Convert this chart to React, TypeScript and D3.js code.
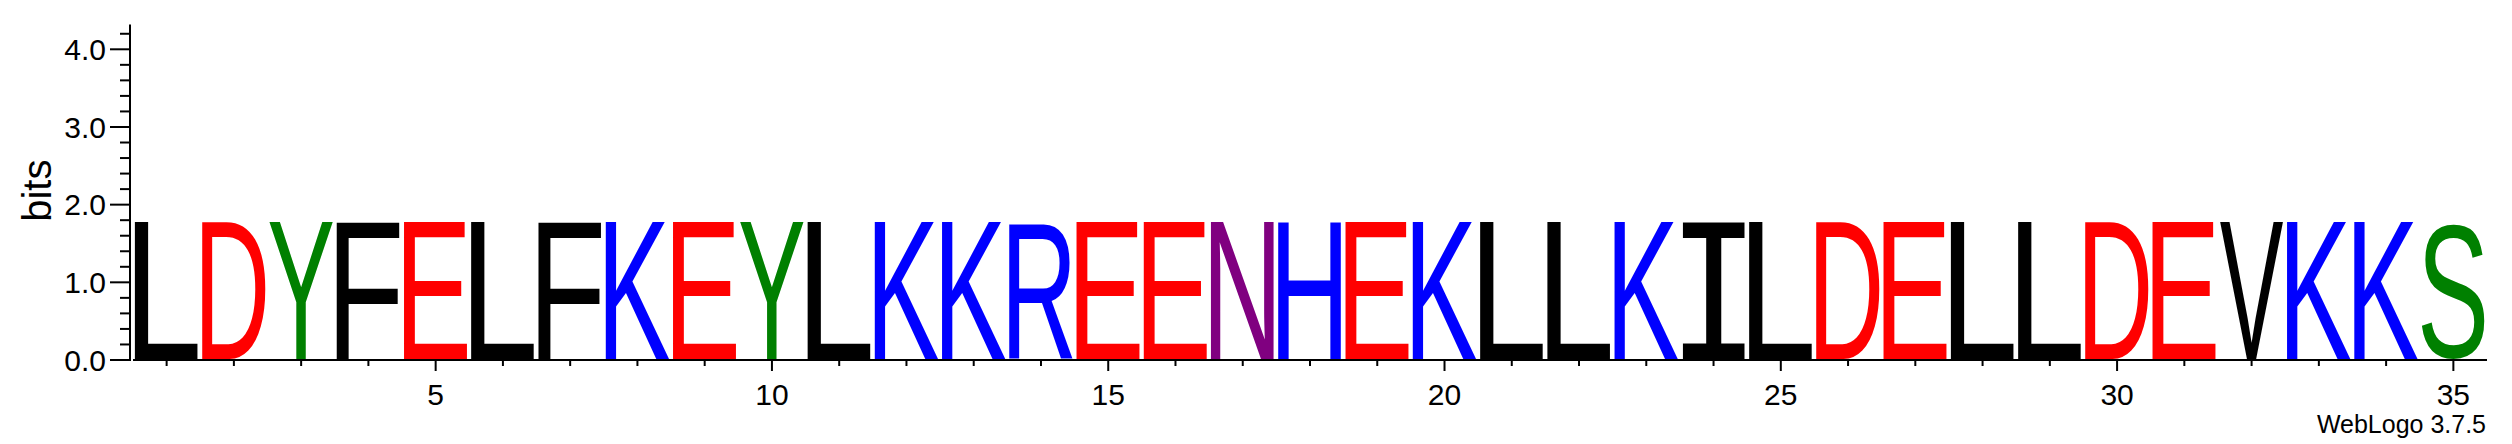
import React, { useMemo } from 'react';
import * as d3 from 'd3';

// one residue per column
const residues = [
  'L', 'D', 'Y', 'F', 'E', 'L', 'F', 'K', 'E', 'Y',
  'L', 'K', 'K', 'R', 'E', 'E', 'N', 'H', 'E', 'K',
  'L', 'L', 'K', 'I', 'L', 'D', 'E', 'L', 'L', 'D',
  'E', 'V', 'K', 'K', 'S',
];

// stack height in bits for each column
const bits = [
  1.77, 1.77, 1.77, 1.77, 1.77, 1.77, 1.77, 1.77, 1.77, 1.77,
  1.77, 1.77, 1.77, 1.77, 1.77, 1.77, 1.77, 1.77, 1.77, 1.77,
  1.77, 1.77, 1.77, 1.77, 1.77, 1.77, 1.77, 1.77, 1.77, 1.77,
  1.77, 1.77, 1.77, 1.77, 1.77,
];

const yTicks = [0, 1, 2, 3, 4];
const yMinorTicks = [0.2, 0.4, 0.6, 0.8, 1.2, 1.4, 1.6, 1.8, 2.2, 2.4, 2.6, 2.8, 3.2, 3.4, 3.6, 3.8, 4.2];
const xLabelTicks = [5, 10, 15, 20, 25, 30, 35];

// WebLogo "chemistry" colours
const colorOf: Record<string, string> = {
  G: '#008000', S: '#008000', T: '#008000', Y: '#008000', C: '#008000',
  N: '#800080', Q: '#800080',
  K: '#0000ff', R: '#0000ff', H: '#0000ff',
  D: '#ff0000', E: '#ff0000',
};

const W = 2512;
const H = 444;
const AXIS_FONT = '"Liberation Sans", Arial, Helvetica, sans-serif';

const fontFor = (ch: string) =>
  ch === 'I' ? '"DejaVu Sans Mono", monospace' : '"Liberation Sans", Arial, sans-serif';

function measure(ch: string) {
  const ctx = document.createElement('canvas').getContext('2d')!;
  ctx.font = `100px ${fontFor(ch)}`;
  const m = ctx.measureText(ch);
  return {
    left: m.actualBoundingBoxLeft,
    right: m.actualBoundingBoxRight,
    ascent: m.actualBoundingBoxAscent,
    descent: m.actualBoundingBoxDescent,
  };
}

export default function App() {
  const x = d3.scaleLinear().domain([0.5, 35.5]).range([133, 2487]);
  const y = d3.scaleLinear().domain([0, 4]).range([360, 49.3]);
  const colW = x(1.5) - x(0.5);

  const glyphs = useMemo(() => {
    const cache: Record<string, ReturnType<typeof measure>> = {};
    return residues.map((ch, i) => {
      if (!cache[ch]) cache[ch] = measure(ch);
      const m = cache[ch];
      const w = colW * 0.95;
      const x0 = x(i + 1) - w / 2;
      const y0 = y(bits[i]);
      const h = y(0) - 1 - y0;
      const sx = w / (m.left + m.right);
      const sy = h / (m.ascent + m.descent);
      return {
        ch,
        transform: `translate(${x0},${y0}) scale(${sx},${sy}) translate(${m.left},${m.ascent})`,
      };
    });
  }, []);

  const yTop = y(4.32);

  return (
    <svg width={W} height={H} style={{ position: 'absolute', left: 0, top: 0, background: '#fff' }}>
      {glyphs.map((g, i) => (
        <text
          key={i}
          transform={g.transform}
          fontFamily={fontFor(g.ch)}
          fontSize={100}
          fill={colorOf[g.ch] || '#000'}
        >
          {g.ch}
        </text>
      ))}

      {/* y axis */}
      <line x1={130} x2={130} y1={yTop} y2={y(0) + 1} stroke="#000" strokeWidth={2} />
      {yTicks.map(t => (
        <g key={t}>
          <line x1={110} x2={130} y1={y(t)} y2={y(t)} stroke="#000" strokeWidth={2} />
          <text x={106} y={y(t)} dy="0.36em" textAnchor="end" fontFamily={AXIS_FONT} fontSize={30}>
            {t.toFixed(1)}
          </text>
        </g>
      ))}
      {yMinorTicks.map(t => (
        <line key={t} x1={120} x2={130} y1={y(t)} y2={y(t)} stroke="#000" strokeWidth={2} />
      ))}
      <text
        transform={`translate(51,${y(2.18)}) rotate(-90)`}
        textAnchor="middle"
        fontFamily={AXIS_FONT}
        fontSize={40}
      >
        bits
      </text>

      {/* x axis */}
      <line x1={133} x2={2487} y1={y(0)} y2={y(0)} stroke="#000" strokeWidth={2} />
      {residues.map((_, i) => (
        <line
          key={i}
          x1={x(i + 1)}
          x2={x(i + 1)}
          y1={y(0)}
          y2={y(0) + ((i + 1) % 5 === 0 ? 11 : 6)}
          stroke="#000"
          strokeWidth={2}
        />
      ))}
      {xLabelTicks.map(t => (
        <text key={t} x={x(t)} y={405} textAnchor="middle" fontFamily={AXIS_FONT} fontSize={30}>
          {t}
        </text>
      ))}

      <text x={2486} y={433} textAnchor="end" fontFamily={AXIS_FONT} fontSize={25}>
        WebLogo 3.7.5
      </text>
    </svg>
  );
}
